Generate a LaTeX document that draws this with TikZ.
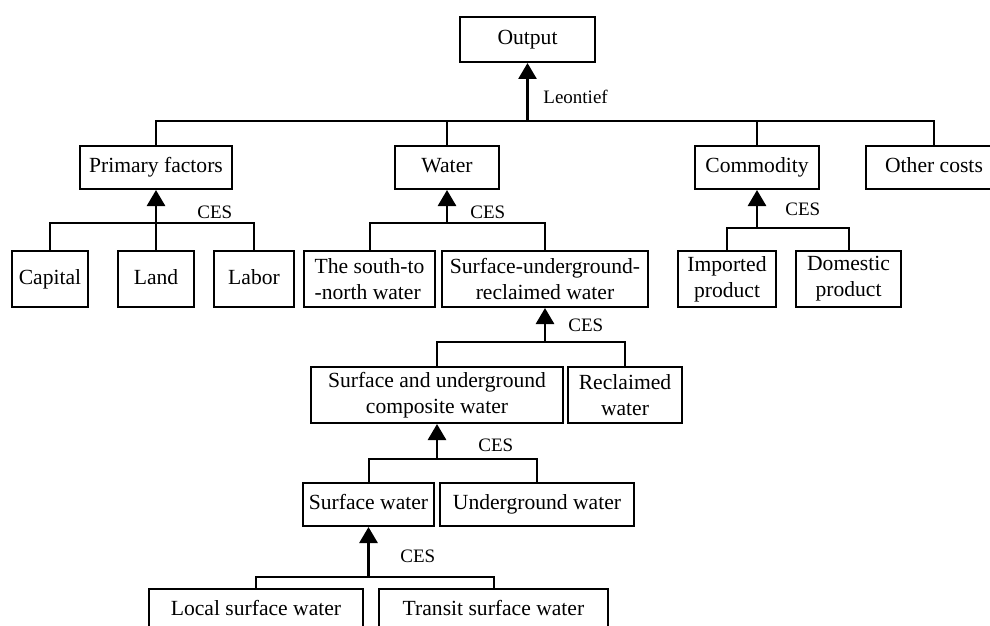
\documentclass[tikz,border=0pt]{standalone}
\usepackage{fontspec}
\setmainfont{Liberation Serif}
\usetikzlibrary{arrows.meta}
\begin{document}
\begin{tikzpicture}[x=0.5pt,y=-0.5pt,
 box/.style={draw, line width=1pt, inner sep=0pt, minimum height=21.5pt, align=center, font=\fontsize{10.8}{13}\selectfont},
 one/.style={box, text height=7.6pt, text depth=2.4pt},
 tall/.style={box, minimum height=28pt},
 link/.style={line width=1pt},
 up/.style={line width=1.4pt, -{Triangle[width=9pt,length=8pt]}},
 lbl/.style={anchor=west, inner sep=0pt, font=\fontsize{9.5}{11}\selectfont}]
\useasboundingbox (0,0) rectangle (990,626);
\clip (0,0) rectangle (990,626);
% row 0
\node[one, minimum width=67.5pt, minimum height=22.5pt] (out) at (527.5,39.5) {Output};
% row 1
\node[one, minimum width=76pt] (pf) at (156,167.5) {Primary factors};
\node[one, minimum width=52pt] (water) at (447,167.5) {Water};
\node[one, minimum width=62pt] (comm) at (757,167.5) {Commodity};
\node[one, minimum width=68pt] (other) at (934,167.5) {Other costs};
% row 2
\node[one, minimum height=28pt, minimum width=38pt] (capital) at (50,279) {Capital};
\node[one, minimum height=28pt, minimum width=38pt] (land) at (156,279) {Land};
\node[one, minimum height=28pt, minimum width=40pt] (labor) at (254,279) {Labor};
\node[tall, minimum width=65.5pt, align=left] (s2n) at (369.5,279) {The south-to\\-north water};
\node[tall, minimum width=103pt] (sur) at (545,279) {Surface-underground-\\reclaimed water};
\node[tall, minimum width=49pt] (imp) at (727,279) {Imported\\product};
\node[tall, minimum width=52.5pt] (dom) at (848.5,279) {Domestic\\product};
% row 3
\node[tall, minimum width=126pt] (comp) at (437,395) {Surface and underground\\composite water};
\node[tall, minimum width=57pt] (recl) at (625,395) {Reclaimed\\water};
% row 4
\node[one, minimum width=65.5pt] (surf) at (368.5,504.5) {Surface water};
\node[one, minimum width=97pt] (under) at (537,504.5) {Underground water};
% row 5
\node[one, minimum width=107pt] (local) at (256,610.5) {Local surface water};
\node[one, minimum width=114.5pt] (transit) at (493.5,610.5) {Transit surface water};
% junctions
\coordinate (b0) at (527.5,121);
\coordinate (b1) at (156,223);
\coordinate (b2) at (447,223);
\coordinate (b3) at (757,228);
\coordinate (b4) at (545,342);
\coordinate (b5) at (437,459);
\coordinate (b6) at (368.5,577);
% connectors
\foreach \c in {pf,water,comm,other} \draw[link] (\c.north) |- (b0);
\foreach \c in {capital,land,labor} \draw[link] (\c.north) |- (b1);
\foreach \c in {s2n,sur} \draw[link] (\c.north) |- (b2);
\foreach \c in {imp,dom} \draw[link] (\c.north) |- (b3);
\foreach \c in {comp,recl} \draw[link] (\c.north) |- (b4);
\foreach \c in {surf,under} \draw[link] (\c.north) |- (b5);
\foreach \c in {local,transit} \draw[link] (\c.north) |- (b6);
\draw[up] (b0) -- (out.south);
\draw[up] (b1) -- (pf.south);
\draw[up] (b2) -- (water.south);
\draw[up] (b3) -- (comm.south);
\draw[up] (b4) -- (sur.south);
\draw[up] (b5) -- (comp.south);
\draw[up] (b6) -- (surf.south);
% labels
\node[lbl] (l0) at (543,97) {Leontief};
\node[lbl] (l1) at (197,212) {CES};
\node[lbl] (l2) at (470,212) {CES};
\node[lbl] (l3) at (785,209) {CES};
\node[lbl] (l4) at (568,325) {CES};
\node[lbl] (l5) at (478,445) {CES};
\node[lbl] (l6) at (400,556) {CES};
\end{tikzpicture}
\end{document}
